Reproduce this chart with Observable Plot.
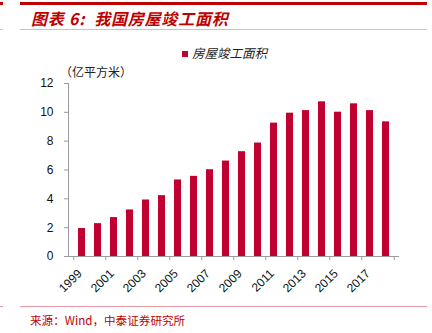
<!DOCTYPE html>
<html><head><meta charset="utf-8">
<script src="https://cdn.jsdelivr.net/npm/d3@7"></script>
<script src="https://cdn.jsdelivr.net/npm/@observablehq/plot@0.6"></script>
<style>
body{margin:0;background:#fff;}
#wrap{position:relative;width:432px;height:333px;overflow:hidden;font-family:"Noto Sans CJK SC","Noto Sans",sans-serif;}
.abs{position:absolute;}
#title{left:31px;top:7px;font-size:16px;line-height:22px;font-weight:bold;font-style:italic;color:#C00000;white-space:nowrap;letter-spacing:0.8px;}
#legend{left:182px;top:45px;font-size:12.5px;line-height:16px;color:#222;white-space:nowrap;font-style:italic;}
#legend span{display:inline-block;width:6px;height:6px;background:#C00030;margin-right:4px;vertical-align:1px;}
#unit{left:60px;top:64px;font-size:12px;line-height:16px;color:#222;white-space:nowrap;}
#source{left:30px;top:312px;font-size:11.6px;line-height:16px;color:#C00000;white-space:nowrap;}
#chart{left:0;top:40px;}
</style></head><body>
<div id="wrap">
  <div class="abs" style="left:20px;top:2px;width:407px;height:2.5px;background:#C00000"></div>
  <div class="abs" style="left:0;top:2px;width:3px;height:3px;background:#C00000"></div>
  <div class="abs" id="title">图表 6:&nbsp; 我国房屋竣工面积</div>
  <div class="abs" style="left:20px;top:29px;width:407px;height:1px;background:#EDB3BC"></div>
  <div class="abs" style="left:0;top:29px;width:3px;height:1px;background:#EDB3BC"></div>
  <div class="abs" id="legend"><span></span>房屋竣工面积</div>
  <div class="abs" id="unit">（亿平方米）</div>
  <div class="abs" id="chart"></div>
  <div class="abs" style="left:20px;top:306px;width:407px;height:1px;background:#E59AA6"></div>
  <div class="abs" style="left:0;top:306px;width:3px;height:1px;background:#E59AA6"></div>
  <div class="abs" id="source">来源：Wind，中泰证券研究所</div>
</div>
<script>
const years = ["1999","2000","2001","2002","2003","2004","2005","2006","2007","2008","2009","2010","2011","2012","2013","2014","2015","2016","2017","2018"];
const area = [1.94, 2.28, 2.70, 3.23, 3.92, 4.22, 5.31, 5.56, 6.02, 6.62, 7.27, 7.87, 9.25, 9.94, 10.12, 10.73, 10.01, 10.59, 10.12, 9.34];
const labelYears = ["1999","2001","2003","2005","2007","2009","2011","2013","2015","2017"];
const yTicks = [0, 2, 4, 6, 8, 10, 12];

const data = years.map((y, i) => ({year: y, value: area[i]}));
const W = 432, H = 262, mL = 68, mR = 34, mT = 43, mB = 46;
const step = (W - mL - mR) / years.length;

const plot = Plot.plot({
  width: W, height: H,
  marginLeft: mL, marginRight: mR, marginTop: mT, marginBottom: mB,
  style: {fontFamily: '"Liberation Sans", Arial, sans-serif', fontSize: "12px", color: "#111", background: "transparent"},
  x: {domain: years, paddingInner: 0.58, paddingOuter: 0.29, label: null},
  y: {domain: [0, 12], label: null},
  marks: [
    Plot.barY(data, {x: "year", y: "value", fill: "#C00030"}),
    Plot.frame({anchor: "left", stroke: "#9a9a9a"}),
    Plot.frame({anchor: "bottom", stroke: "#9a9a9a"}),
    Plot.axisY({ticks: yTicks, tickSize: 4, tickPadding: 11, stroke: "#9a9a9a", fill: "#111", label: null}),
    Plot.axisX({ticks: labelYears, tickSize: 4, text: null, dx: -step / 2, stroke: "#9a9a9a", label: null}),
    Plot.axisX({ticks: ["2018"], tickSize: 4, text: null, dx: step / 2, stroke: "#9a9a9a", label: null}),
    Plot.axisX({ticks: labelYears, tickSize: 0, tickPadding: 6, tickRotate: -45, dy: 9, dx: -2, fill: "#111", label: null})
  ]
});
document.getElementById("chart").appendChild(plot);
</script>
</body></html>
